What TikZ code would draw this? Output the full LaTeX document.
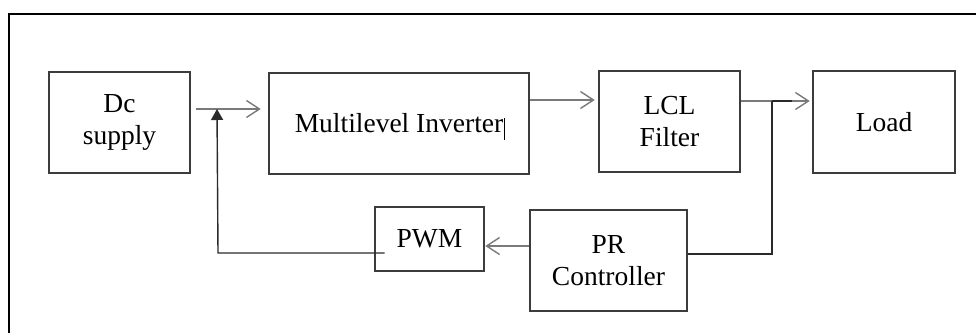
\documentclass[tikz,border=0pt]{standalone}
\usepackage{fontspec}
\setmainfont{Liberation Serif}
\usetikzlibrary{arrows.meta}
\definecolor{boxc}{HTML}{3C3C3C}
\definecolor{arrc}{HTML}{7A7A7A}
\definecolor{fbc}{HTML}{2A2A2A}
\tikzset{
  blk/.style={draw=boxc, line width=2.6pt, rectangle, inner sep=0pt, align=center,
    font=\fontsize{27.5}{32}\selectfont},
  arr/.style={draw=arrc, line width=1.5pt, -{Straight Barb[length=13pt,width=17pt,line width=1.4pt]}},
  fb/.style={draw=fbc, line width=1.4pt},
}
\begin{document}
\begin{tikzpicture}[x=1pt,y=-1pt]
\useasboundingbox (0,0) rectangle (976,332);
\fill[white] (0,0) rectangle (976,332);
% outer frame
\draw[black, line width=2.4pt] (9,334) -- (9,14) -- (978,14);
% blocks
\node[blk, minimum width=141pt, minimum height=101pt] (Dc) at (119.5,122.5) {Dc\\supply};
\node[blk, minimum width=260pt, minimum height=101pt] (Inv) at (399,123.5) {Multilevel Inverter};
\node[blk, minimum width=141pt, minimum height=101pt] (LCL) at (669.5,121.5) {LCL\\Filter};
\node[blk, minimum width=142pt, minimum height=102pt] (Load) at (884,122) {Load};
\node[blk, minimum width=109pt, minimum height=64pt] (PWM) at (429.5,239) {PWM};
\node[blk, minimum width=157pt, minimum height=101pt] (PR) at (608.5,260.5) {PR\\Controller};
% text cursor mark
\draw[black, line width=1pt] (504,118) -- (504,140);
% coordinates
\coordinate (j) at (217,109);
\coordinate (a2) at (560,100);
\coordinate (k) at (772,101);
\coordinate (k2) at (772,254);
\coordinate (fbc) at (218,253);
\coordinate (p) at (507,246);
% forward arrows
\draw[arr, shorten <=5pt, shorten >=7pt] (Dc.east |- j) -- (Inv.west |- j);
\draw[arr, shorten >=3pt] (Inv.east |- a2) -- (LCL.west |- a2);
\draw[arr, shorten >=2pt] (LCL.east |- k) -- (Load.west |- k);
% feedback
\draw[fb] (k) -- ++(20,0);
\draw[fb] (k) -- (k2) -- (PR.east |- k2);
\draw[arr] (PR.west |- p) -- (PWM.east |- p);
\draw[fb, -{Triangle[length=11pt,width=12pt]}] ([xshift=11pt]PWM.west |- fbc) -- (fbc) -- (j);
\end{tikzpicture}
\end{document}
